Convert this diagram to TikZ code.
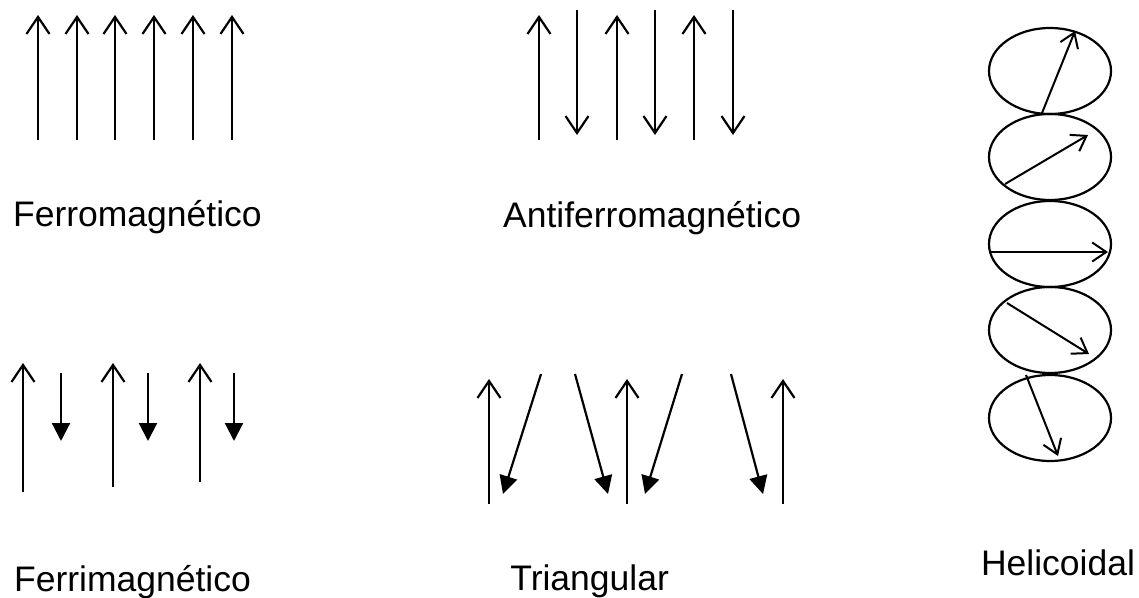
\documentclass[tikz,border=0pt]{standalone}
\usepackage{fontspec}
\setmainfont{Liberation Sans}
\usetikzlibrary{arrows.meta}

\begin{document}
\begin{tikzpicture}[
  x=1pt, y=-1pt,
  line width=2.2pt,
  lab/.style={inner sep=0pt, font=\fontsize{35.5}{42}\selectfont},
  spin/.style={-{Straight Barb[length=17pt, width=23pt]}},
  spinf/.style={-{Triangle[length=18pt, width=18pt]}},
  hspin/.style={line width=2pt, -{Straight Barb[length=14pt, width=19pt]}}
]
\useasboundingbox (0,0) rectangle (1139,597);

% Ferromagnetic
\foreach \i/\x in {1/38,2/77,3/115,4/154,5/193,6/232}{
  \coordinate (Fb\i) at (\x,140);
  \coordinate (Ft\i) at (\x,15);
  \draw[spin] (Fb\i) -- (Ft\i);
}
\node[lab, anchor=base west] (ferro) at (12,226) {Ferromagnético};

% Antiferromagnetic
\foreach \i/\x in {1/539,3/617,5/694}{
  \coordinate (Ab\i) at (\x,140);
  \coordinate (At\i) at (\x,15);
  \draw[spin] (Ab\i) -- (At\i);
}
\foreach \i/\x in {2/577,4/655,6/733}{
  \coordinate (Ab\i) at (\x,10);
  \coordinate (At\i) at (\x,135);
  \draw[spin] (Ab\i) -- (At\i);
}
\node[lab, anchor=base west] (antiferro) at (502,227) {Antiferromagnético};

% Ferrimagnetic
\foreach \i/\x/\b in {1/23/492,2/113/487,3/200/482}{
  \coordinate (Rb\i) at (\x,\b);
  \coordinate (Rt\i) at (\x,363);
  \draw[spin] (Rb\i) -- (Rt\i);
}
\foreach \i/\x in {1/61,2/148,3/234}{
  \coordinate (Sb\i) at (\x,373);
  \coordinate (St\i) at (\x,441);
  \draw[spinf] (Sb\i) -- (St\i);
}
\node[lab, anchor=base west] (ferri) at (13,591) {Ferrimagnético};

% Triangular
\foreach \i/\x in {1/489,2/627,3/783}{
  \coordinate (Tb\i) at (\x,504);
  \coordinate (Tt\i) at (\x,379);
  \draw[spin] (Tb\i) -- (Tt\i);
}
\foreach \i/\xa/\xb in {1/541/503,2/575/608,3/682/645,4/731/763}{
  \coordinate (Ds\i) at (\xa,374);
  \coordinate (De\i) at (\xb,494);
  \draw[spinf] (Ds\i) -- (De\i);
}
\node[lab, anchor=base east] (tri) at (670,590) {Triangular};

% Helicoidal
\foreach \i/\y in {1/71,2/157,3/244,4/330,5/418}{
  \draw (1050,\y) ellipse [x radius=61, y radius=43];
}
\foreach \i/\xa/\ya/\xb/\yb in {1/1042/113/1075/31,2/1005/184/1088/135,
    3/991/252/1108/252,4/1007/303/1089/354,5/1026/375/1058/456}{
  \coordinate (Hs\i) at (\xa,\ya);
  \coordinate (He\i) at (\xb,\yb);
  \draw[hspin] (Hs\i) -- (He\i);
}
\node[lab, anchor=base west] (heli) at (980,575) {Helicoidal};

\end{tikzpicture}
\end{document}
